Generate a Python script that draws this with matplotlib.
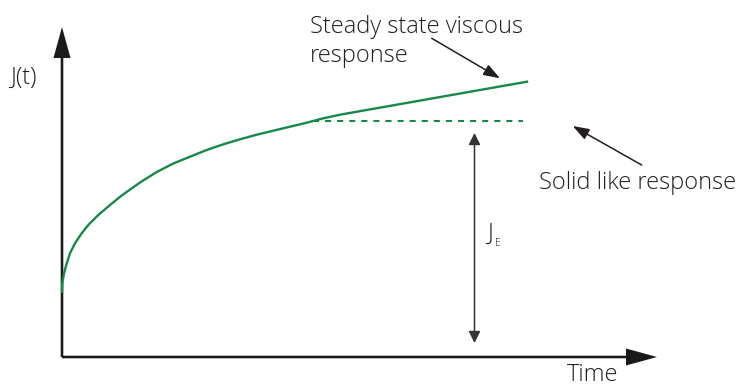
#!/usr/bin/env python3
"""Creep compliance J(t) sketch: elastic jump, retarded response, steady viscous flow."""
import matplotlib

matplotlib.use("Agg")
import matplotlib.pyplot as plt

# Data in chart units (time, compliance), origin at the axes corner.
time = [0, 0.3, 2, 4.7, 8, 13, 19.7, 26.3, 36.3, 48, 59.7, 78, 94.7, 111.3,
        128, 144.7, 161.3, 178, 194.7, 211.3, 228, 244.7, 261.3, 278, 465]
compliance = [65.3, 73.7, 83.7, 93.7, 103.7, 113.7, 123.7, 132, 142, 152, 161.5,
              174.5, 185, 193.5, 200.3, 207, 212.7, 217.7, 222.3, 226.3, 230.3,
              234.3, 238.7, 242.3, 275.3]

je_level = 236.3          # solid-like (elastic) plateau
je_span = [251, 461]      # extent of the dashed plateau
je_arrow_t = 412.5
je_arrow_range = [14, 224]

x_axis_end = 595
y_axis_end = 330

GREEN = "#17884a"
INK = "#231f20"
FONT = "Open Sans"
FS = 17

plt.rcParams["font.family"] = [FONT, "DejaVu Sans"]
plt.rcParams["font.weight"] = "light"

fig = plt.figure(figsize=(7.38, 3.87), dpi=100)
ax = fig.add_axes([0, 0, 1, 1])
ax.set_xlim(-62, 676)
ax.set_ylim(-30, 357)
ax.axis("off")

# axes with big arrow heads
ax.arrow(0, 0, x_axis_end, 0, width=2.6, head_width=17, head_length=31,
         length_includes_head=True, color="#1a1a1a", lw=0)
ax.arrow(0, 0, 0, y_axis_end, width=2.6, head_width=17, head_length=31,
         length_includes_head=True, color="#1a1a1a", lw=0)

# compliance curve and elastic plateau
ax.plot(time, compliance, color=GREEN, lw=1.7, solid_joinstyle="round")
ax.plot(je_span, [je_level, je_level], color=GREEN, lw=1.5, dashes=(2.9, 2.9))

# J_E double arrow
ax.annotate("", xy=(je_arrow_t, je_arrow_range[1]), xytext=(je_arrow_t, je_arrow_range[0]),
            arrowprops=dict(arrowstyle="<|-|>,head_length=0.7,head_width=0.35",
                            mutation_scale=10, color="#333333", lw=1.1,
                            shrinkA=0, shrinkB=0))

# callout arrows
ax.annotate("", xy=(438, 278.7), xytext=(369.7, 318.7),
            arrowprops=dict(arrowstyle="-|>,head_length=1.0,head_width=0.35",
                            mutation_scale=10, color=INK, lw=1.1,
                            shrinkA=0, shrinkB=0))
ax.annotate("", xy=(510.7, 231), xytext=(579.7, 192),
            arrowprops=dict(arrowstyle="-|>,head_length=1.0,head_width=0.35",
                            mutation_scale=10, color=INK, lw=1.1,
                            shrinkA=0, shrinkB=0))

# labels
ax.text(-52, 279, "J(t)", fontsize=FS, color=INK, ha="left", va="center")
ax.text(248, 324, "Steady state viscous", fontsize=FS, color=INK,
        ha="left", va="baseline")
ax.text(248, 295, "response", fontsize=FS, color=INK, ha="left", va="baseline")
ax.text(477, 168, "Solid like response", fontsize=FS, color=INK,
        ha="left", va="baseline")
ax.text(424.7, 117, "J", fontsize=FS, color=INK, ha="left", va="baseline")
ax.text(433, 110.5, "E", fontsize=7.5, color=INK, ha="left", va="baseline")
ax.text(504.7, -24, "Time", fontsize=FS, color=INK, ha="left", va="baseline")

fig.savefig("out.png", dpi=100)
